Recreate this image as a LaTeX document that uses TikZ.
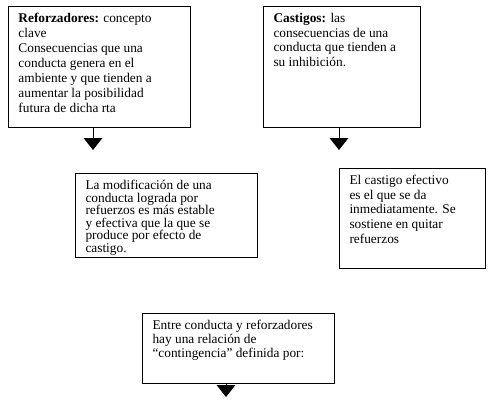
\documentclass[tikz,border=0pt]{standalone}
\usepackage{fontspec}
\setmainfont{Liberation Serif}
\usepackage{tikz}
\usetikzlibrary{arrows.meta,positioning,calc}

\newcommand{\textocaja}[3]{\parbox[t][#2][t]{#1}{\raggedright #3}}

\begin{document}
\begin{tikzpicture}[
    x=0.75pt, y=-0.75pt,
    caja/.style={draw, line width=0.75pt, anchor=north west, inner xsep=7.5pt, inner ysep=5pt, font=\fontsize{10}{#1}\selectfont},
    flecha/.style={-{Triangle[width=14pt, length=9pt]}, line width=0.75pt}
]
    \useasboundingbox (0,0) rectangle (491,400);

    \node[caja=11.3pt] (refuerzo) at (8,6) {\textocaja{121.5pt}{80.75pt}{\textbf{Reforzadores:} concepto\\clave\\Consecuencias que una\\conducta genera en el\\ambiente y que tienden a\\aumentar la posibilidad\\futura de dicha rta}};
    \node[caja=11pt] (castigo) at (263,6) {\textocaja{102.75pt}{80.75pt}{\textbf{Castigos:} las\\consecuencias de una\\conducta que tienden a\\su inhibición.}};
    \node[caja=9.45pt] (estable) at (75,173) {\textocaja{121.5pt}{53pt}{La modificación de una\\conducta lograda por\\refuerzos es más estable\\y efectiva que la que se\\produce por efecto de\\castigo.}};
    \node[caja=11pt] (efectivo) at (339,168) {\textocaja{94.5pt}{65pt}{El castigo efectivo\\es el que se da\\inmediatamente. Se\\sostiene en quitar\\refuerzos}};
    \node[caja=10.5pt] (contingencia) at (142,313) {\textocaja{129pt}{42.5pt}{Entre conducta y reforzadores\\hay una relación de\\“contingencia” definida por:}};

    % flechas sueltas
    \coordinate (f1) at (93,150);
    \coordinate (f2) at (339,150);
    \coordinate (f3) at (226,397);
    \draw[flecha] (f1 |- refuerzo.south) -- (f1);
    \draw[flecha] (f2 |- castigo.south) -- (f2);
    \draw[flecha] (f3 |- contingencia.south) -- (f3);
\end{tikzpicture}
\end{document}
